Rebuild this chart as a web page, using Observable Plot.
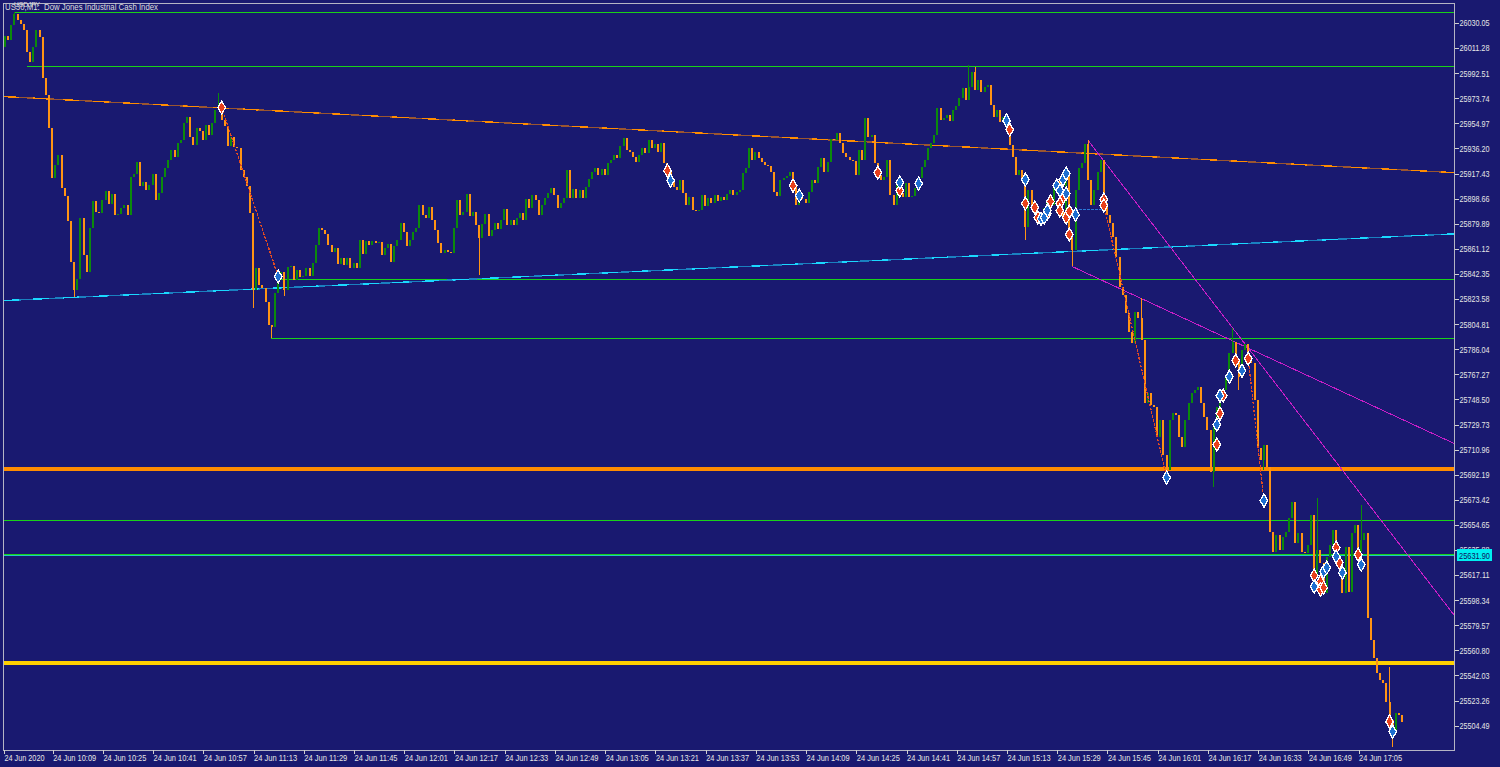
<!DOCTYPE html>
<html><head><meta charset="utf-8">
<script src="https://cdn.jsdelivr.net/npm/d3@7"></script>
<script src="https://cdn.jsdelivr.net/npm/@observablehq/plot@0.6"></script>
<style>
html,body{margin:0;padding:0;background:#191970;overflow:hidden}
#chart{position:relative;width:1500px;height:767px}
svg{shape-rendering:crispEdges}
svg text{shape-rendering:auto}
</style></head><body><div id="chart"></div>
<script>
// ---- data (M1 bars of 24 Jun 2020, first bar 09:54) ----
const startTime = "09:54";
const firstOpen = 26012.0;
const closes = [
26020.3,26017.3,26028.5,26036.7,26032.2,26029.3,26024.8,26008.3,26000.8,26012.0,
26024.8,26019.5,25988.9,25976.1,25951.5,25914.1,25923.8,25931.3,25906.6,25900.6,
25881.9,25851.2,25830.3,25838.5,25884.1,25856.5,25843.7,25876.7,25896.9,25888.6,
25887.9,25897.6,25904.3,25894.6,25902.1,25886.4,25887.1,25891.6,25893.9,25886.4,
25914.8,25917.0,25926.0,25908.1,25911.1,25905.1,25908.8,25917.0,25897.6,25902.8,
25914.8,25921.5,25927.5,25935.0,25929.8,25940.2,25942.5,25955.2,25959.7,25944.7,
25938.7,25951.5,25949.2,25942.5,25953.7,25946.2,25955.2,25964.9,25968.7,25957.4,
25953.0,25938.0,25944.7,25937.2,25936.5,25920.0,25914.8,25908.1,25887.9,25830.3,
25846.7,25834.0,25831.8,25821.3,25804.1,25802.6,25828.0,25839.3,25843.7,25830.3,
25847.5,25848.2,25837.8,25845.2,25840.0,25840.8,25846.7,25840.8,25850.5,25863.9,
25876.7,25875.2,25872.2,25863.9,25858.7,25861.7,25849.7,25854.2,25849.0,25854.2,
25846.7,25850.5,25846.7,25867.7,25857.2,25866.9,25863.9,25866.9,25865.4,25866.2,
25856.5,25861.7,25864.7,25851.2,25863.2,25867.7,25880.4,25873.7,25863.2,25867.7,
25873.7,25876.7,25893.9,25886.4,25884.1,25892.4,25882.6,25875.2,25865.4,25858.0,
25860.2,25858.7,25858.0,25876.7,25897.6,25886.4,25888.6,25902.1,25885.6,25888.6,
25878.9,25869.2,25879.6,25887.1,25870.7,25875.2,25880.4,25875.9,25882.6,25890.9,
25878.9,25882.6,25878.9,25884.1,25887.9,25882.6,25898.3,25891.6,25901.3,25897.6,
25886.4,25893.9,25899.1,25902.8,25906.6,25901.3,25891.6,25895.4,25899.1,25920.0,
25899.1,25905.8,25899.1,25905.1,25899.1,25907.3,25913.3,25918.5,25921.5,25916.3,
25920.8,25916.3,25925.3,25927.5,25931.3,25929.0,25938.0,25944.0,25935.0,25933.5,
25929.8,25926.0,25931.3,25936.5,25932.8,25942.5,25936.5,25939.5,25933.5,25940.2,
25925.3,25918.5,25911.1,25907.3,25905.1,25912.6,25902.8,25893.9,25899.8,25890.1,
25889.4,25890.1,25901.3,25893.1,25899.1,25895.4,25901.3,25896.9,25899.8,25897.6,
25902.1,25905.1,25901.3,25903.6,25905.1,25917.8,25921.5,25936.5,25927.5,25933.5,
25929.0,25926.0,25923.8,25923.0,25918.5,25903.6,25900.6,25912.6,25914.1,25915.5,
25918.5,25908.1,25893.9,25901.3,25898.3,25895.4,25903.6,25912.6,25910.3,25922.3,
25929.0,25918.5,25926.0,25943.2,25942.5,25947.7,25940.2,25932.8,25929.8,25927.5,
25926.8,25916.3,25935.0,25927.5,25958.9,25944.7,25946.2,25925.3,25916.3,25912.6,
25914.8,25927.5,25901.3,25893.9,25912.6,25902.8,25899.8,25910.3,25899.8,25900.6,
25906.6,25914.1,25922.3,25927.5,25936.5,25940.2,25946.2,25966.4,25957.4,25958.9,
25961.2,25956.7,25964.9,25967.9,25973.9,25981.4,25972.4,25982.1,25993.3,25979.9,
25987.4,25978.4,25982.1,25983.6,25968.7,25959.7,25964.9,25955.9,25959.7,25955.2,
25938.7,25929.8,25916.3,25920.0,25914.1,25877.4,25905.1,25893.9,25889.4,25884.1,
25886.4,25891.6,25897.6,25893.9,25906.6,25912.6,25890.1,25884.1,25918.5,25869.9,
25860.2,25905.1,25921.5,25925.3,25939.5,25912.6,25893.9,25905.1,25918.5,25927.5,
25895.4,25886.4,25880.4,25869.9,25855.0,25832.5,25826.5,25813.1,25798.9,25790.6,
25813.8,25809.3,25792.9,25745.8,25753.2,25744.3,25742.8,25720.3,25733.0,25706.9,
25695.6,25733.0,25738.3,25736.8,25720.3,25712.8,25733.0,25745.8,25753.2,25755.5,
25757.7,25745.8,25735.3,25725.6,25694.1,25730.8,25742.8,25751.7,25755.5,25764.5,
25783.2,25791.4,25777.9,25765.2,25785.4,25789.9,25777.9,25775.7,25748.0,25712.1,
25703.1,25714.3,25697.9,25649.3,25634.3,25647.0,25635.8,25645.5,25649.3,25659.7,
25671.7,25641.0,25648.5,25634.3,25633.6,25639.5,25662.0,25615.6,25635.8,25626.1,
25603.6,25630.6,25639.5,25650.8,25628.3,25626.1,25603.6,25638.0,25604.4,25648.5,
25654.5,25634.3,25643.3,25648.5,25584.9,25568.5,25555.0,25543.8,25538.6,25536.3,
25522.1,25508.6,25501.2,25513.9,25512.4,25507.1
];
// wick extremes read where they stand out of the bodies: [bar, price]
const highWicks = [[3,26038.2],[68,25977.6],[307,25998.6],[309,25997.1],[345,25942.5],[362,25824.3],[391,25801.9],[418,25674.7],[432,25669.5],[441,25548.3]];
const lowWicks = [[22,25825.0],[79,25816.8],[85,25794.4],[89,25825.8],[151,25841.5],[325,25867.7],[340,25848.2],[370,25690.4],[385,25683.0],[393,25755.5],[401,25695.6],[442,25488.4]];

const redMarks = [[69,25967.2],[211,25920.0],[251,25908.8],[278,25918.5],[285,25905.1],[320,25950.7],[325,25895.4],[328,25892.4],[329,25884.9],[332,25887.9],[333,25896.9],[337,25899.8],[336,25895.4],[336,25890.1],[338,25884.9],[339,25889.4],[339,25872.2],[350,25898.3],[350,25893.9],[392,25777.9],[396,25779.4],[388,25751.7],[387,25738.3],[386,25715.1],[417,25617.1],[419,25612.6],[419,25606.6],[420,25608.1],[424,25638.0],[425,25626.8],[431,25632.8],[441,25507.9]];
const blueMarks = [[87,25840.8],[212,25912.6],[253,25901.3],[285,25911.1],[291,25910.3],[319,25957.4],[325,25913.3],[330,25884.1],[331,25884.9],[332,25890.1],[335,25908.8],[337,25913.3],[338,25917.8],[336,25905.1],[338,25902.8],[341,25887.1],[394,25770.4],[390,25765.9],[387,25751.7],[386,25730.0],[370,25690.4],[401,25673.2],[417,25608.9],[420,25620.1],[421,25623.1],[424,25631.3],[426,25619.3],[432,25625.3],[442,25500.4]];

const greenLevels = [26038.5, 25997.6, 25838.3, 25794.2, 25658.0, 25632.7];
const greenStarts = [3, 7, 88, 85, -0.5, -0.5];
const orangeLevel = 25696.9;
const yellowLevel = 25552.0;
const bidPrice = 25631.90;

const orangeTrend = [[-0.5,25975.4],[461.7,25918.5]];
const cyanTrend = [[-0.5,25822.8],[461.7,25872.7]];
const magentaTrend1 = [[345,25942.5],[461.7,25587.2]];
const magentaTrend2 = [[340,25848.2],[461.7,25715.8]];
const redZig1 = [[69,25967.2],[87,25840.8]];
const redZig2 = [[350,25893.9],[370,25690.4]];
const redZig3 = [[396,25779.4],[401,25673.2]];
const blueZig1 = [[341,25890.8],[350,25890.8]];

const yTicks = [26030.05,26011.28,25992.51,25973.74,25954.97,25936.20,25917.43,25898.66,25879.89,25861.12,25842.35,25823.58,25804.81,25786.04,25767.27,25748.50,25729.73,25710.96,25692.19,25673.42,25654.65,25635.88,25617.11,25598.34,25579.57,25560.80,25542.03,25523.26,25504.49];
const timeTickLabels = ["24 Jun 2020","24 Jun 10:09","24 Jun 10:25","24 Jun 10:41","24 Jun 10:57","24 Jun 11:13","24 Jun 11:29","24 Jun 11:45","24 Jun 12:01","24 Jun 12:17","24 Jun 12:33","24 Jun 12:49","24 Jun 13:05","24 Jun 13:21","24 Jun 13:37","24 Jun 13:53","24 Jun 14:09","24 Jun 14:25","24 Jun 14:41","24 Jun 14:57","24 Jun 15:13","24 Jun 15:29","24 Jun 15:45","24 Jun 16:01","24 Jun 16:17","24 Jun 16:33","24 Jun 16:49","24 Jun 17:05"];
const titleMain = "US30,M1:  Dow Jones Industrial Cash Index";
const titleOver = "USDJPY";

// ---- build ----
const xMin = -0.5, xMax = 461.7;
const toMin = s => { const [h, m] = s.split(":").map(Number); return h * 60 + m; };
const t0 = toMin(startTime);
const labelByIdx = new Map();
const tickIdx = timeTickLabels.map(l => {
  const m = l.match(/(\d\d):(\d\d)$/);
  const idx = m ? toMin(m[0]) - t0 : xMin;
  labelByIdx.set(idx, l);
  return idx;
});
const hiMap = new Map(highWicks), loMap = new Map(lowWicks);
const bars = closes.map((c, i) => {
  const o = i === 0 ? firstOpen : closes[i - 1];
  const hi = hiMap.has(i) ? hiMap.get(i) : Math.max(o, c);
  const lo = loMap.has(i) ? loMap.get(i) : Math.min(o, c);
  return {i, o, c, hi, lo, up: c > o};
});
const upBars = bars.filter(d => d.up), dnBars = bars.filter(d => !d.up);
const GREEN = "#0b8a0b", ORANGE = "#ff9414", LEVEL = "#19d219";
const px = d => d[0], py = d => d[1];
const font = "'Liberation Sans','DejaVu Sans',sans-serif";

const chart = Plot.plot({
  width: 1500, height: 767,
  marginLeft: 3, marginRight: 46, marginTop: 3, marginBottom: 17,
  style: {background: "#191970", color: "#e6e6e6", fontFamily: font, fontSize: "9px"},
  x: {domain: [xMin, xMax], axis: null},
  y: {domain: [25486.3, 26045.0], axis: null},
  marks: [
    Plot.ruleY(greenLevels.map((p, k) => ({p, s: greenStarts[k]})), {y: "p", x1: "s", x2: () => xMax, stroke: LEVEL, strokeWidth: 1}),
    Plot.ruleY([bidPrice], {x1: () => xMin, x2: () => xMax, stroke: "#22c8c0", strokeWidth: 1}),
    Plot.ruleY([orangeLevel], {stroke: "#ff8c00", strokeWidth: 4}),
    Plot.ruleY([yellowLevel], {stroke: "#ffd000", strokeWidth: 4}),
    Plot.line(orangeTrend, {x: px, y: py, stroke: "#9a5530", strokeWidth: 1.4, clip: true}),
    Plot.line(orangeTrend, {x: px, y: py, stroke: "#ff8c00", strokeWidth: 1.4, strokeDasharray: "15,15", clip: true}),
    Plot.line(cyanTrend, {x: px, y: py, stroke: "#1a80c0", strokeWidth: 1.4, clip: true}),
    Plot.line(cyanTrend, {x: px, y: py, stroke: "#1ad8ff", strokeWidth: 1.4, strokeDasharray: "15,15", clip: true}),
    Plot.line(magentaTrend1, {x: px, y: py, stroke: "#c81ec8", strokeWidth: 1, clip: true}),
    Plot.line(magentaTrend2, {x: px, y: py, stroke: "#c81ec8", strokeWidth: 1, clip: true}),
    Plot.ruleX(upBars, {x: "i", y1: "lo", y2: "hi", stroke: GREEN, strokeWidth: 1}),
    Plot.ruleX(dnBars, {x: "i", y1: "lo", y2: "hi", stroke: ORANGE, strokeWidth: 1}),
    Plot.ruleX(upBars, {x: "i", y1: "o", y2: "c", stroke: GREEN, strokeWidth: 2}),
    Plot.ruleX(dnBars, {x: "i", y1: "o", y2: "c", stroke: ORANGE, strokeWidth: 2}),
    Plot.line(redZig1, {x: px, y: py, stroke: "#e04a22", strokeWidth: 1.3, strokeDasharray: "1.5,2.5"}),
    Plot.line(redZig2, {x: px, y: py, stroke: "#e04a22", strokeWidth: 1.3, strokeDasharray: "1.5,2.5"}),
    Plot.line(redZig3, {x: px, y: py, stroke: "#e04a22", strokeWidth: 1.3, strokeDasharray: "1.5,2.5"}),
    Plot.line(blueZig1, {x: px, y: py, stroke: "#2a78d8", strokeWidth: 1.3, strokeDasharray: "1.5,2.5"}),
    Plot.dot(redMarks, {x: px, y: py, symbol: "diamond", r: 4, fill: "#e8401c", stroke: "white", strokeWidth: 1.3}),
    Plot.dot(blueMarks, {x: px, y: py, symbol: "diamond", r: 4, fill: "#1e6ed0", stroke: "white", strokeWidth: 1.3}),
    Plot.frame({stroke: "#b4b4c4"}),
    Plot.axisX(tickIdx, {anchor: "bottom", tickFormat: d => labelByIdx.get(d), textAnchor: "start", tickSize: 4, tickPadding: 0, dx: 1, stroke: "#d0d0d0", fill: "#e6e6e6", fontSize: 9}),
    Plot.axisY(yTicks, {anchor: "right", tickFormat: d => d.toFixed(2), tickSize: 4, tickPadding: 1, stroke: "#d0d0d0", fill: "#e6e6e6", fontSize: 9})
  ]
});
document.getElementById("chart").appendChild(chart);

const svg = d3.select(chart);
// squeeze the axis labels to the narrow terminal font widths
svg.selectAll('g[aria-label="x-axis tick label"] text').each(function() {
  const t = d3.select(this), s = t.text();
  t.attr("textLength", s.length === 11 ? 40 : 43).attr("lengthAdjust", "spacingAndGlyphs");
});
svg.selectAll('g[aria-label="y-axis tick label"] text')
  .attr("textLength", 30).attr("lengthAdjust", "spacingAndGlyphs");

// title (drawn overlapping, as in the terminal window)
svg.append("text").attr("x", 5).attr("y", 10).attr("text-anchor", "start").attr("fill", "#dcdcdc")
  .attr("font-family", font).attr("font-size", 9)
  .attr("textLength", 153).attr("lengthAdjust", "spacingAndGlyphs").text(titleMain);
svg.append("text").attr("x", 14).attr("y", 7).attr("text-anchor", "start").attr("fill", "#dcdcdc")
  .attr("font-family", font).attr("font-size", 8)
  .attr("textLength", 26).attr("lengthAdjust", "spacingAndGlyphs").text(titleOver);

// current price label on the right scale
const ys = Math.round(chart.scale("y").apply(bidPrice));
svg.append("rect").attr("x", 1457).attr("y", ys - 6).attr("width", 35).attr("height", 12).attr("fill", "#00f0f0");
svg.append("text").attr("x", 1459).attr("y", ys + 3.5).attr("text-anchor", "start").attr("fill", "#101060")
  .attr("font-family", font).attr("font-size", 9)
  .attr("textLength", 31).attr("lengthAdjust", "spacingAndGlyphs").text(bidPrice.toFixed(2));
</script></body></html>
